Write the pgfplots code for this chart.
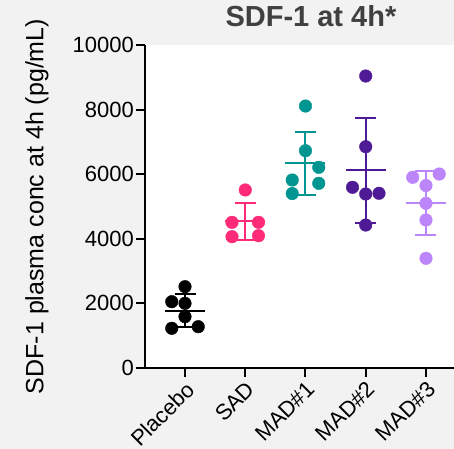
\documentclass[border=0pt]{standalone}
\usepackage{fontspec}
\setmainfont{Liberation Sans}
\usepackage{pgfplots}
\pgfplotsset{compat=1.18}

\definecolor{bggray}{HTML}{F2F2F2}
\definecolor{titlegray}{HTML}{404040}
\definecolor{cPlacebo}{HTML}{000000}
\definecolor{cSAD}{HTML}{FF2A78}
\definecolor{cMADa}{HTML}{009590}
\definecolor{cMADb}{HTML}{4F1A95}
\definecolor{cMADc}{HTML}{BC85FA}

\pgfplotsset{
  sdbar/.style={only marks, mark=-, mark size=20bp, mark options={line width=2bp},
    error bars/.cd, y dir=both, y explicit,
    error bar style={line width=2bp},
    error mark=-,
    error mark options={rotate=90, mark size=10.5bp, line width=2bp}},
  dots/.style={only marks, mark=*, mark size=6.3bp},
}

\begin{document}
\begin{tikzpicture}
\fill[bggray] (0,0) rectangle (454bp,449bp);
\useasboundingbox (0,0) rectangle (454bp,449bp);
\begin{axis}[
  at={(145bp,81bp)}, anchor=south west,
  scale only axis, width=309bp, height=323bp,
  xmin=-0.664, xmax=4.465, ymin=0, ymax=10000,
  axis x line*=bottom, axis y line*=left,
  axis line style={line width=2bp, -},
  axis background/.style={fill=white},
  clip=false,
  scaled ticks=false,
  xtick={0,1,2,3,4},
  xticklabels={Placebo,SAD,MAD\#1,MAD\#2,MAD\#3},
  ytick={0,2000,4000,6000,8000,10000},
  tick align=outside,
  major tick length=9bp,
  tick style={line width=2bp, black},
  /pgf/number format/assume math mode=true,
  yticklabel style={/pgf/number format/1000 sep={}, inner sep=2bp,
    font=\fontsize{22bp}{26bp}\selectfont},
  xticklabel style={rotate=45, anchor=north east, inner sep=2bp,
    font=\fontsize{22bp}{26bp}\selectfont},
  ylabel={SDF-1 plasma conc at 4h (pg/mL)},
  ylabel style={at={(axis description cs:-0.35,0.5)}, anchor=center,
    font=\fontsize{25bp}{30bp}\selectfont},
  title={SDF-1 at 4h*},
  title style={at={(axis description cs:0.537,1.071)}, anchor=center,
    text=titlegray, font=\bfseries\fontsize{29bp}{34bp}\selectfont},
]
% mean +- SD
\addplot[color=cPlacebo, sdbar] coordinates {(0,1778) +- (0,502)};
\addplot[color=cSAD, sdbar] coordinates {(1,4540) +- (0,580)};
\addplot[color=cMADa, sdbar] coordinates {(2,6332) +- (0,984)};
\addplot[color=cMADb, sdbar] coordinates {(3,6118) +- (0,1628)};
\addplot[color=cMADc, sdbar] coordinates {(4,5106) +- (0,994)};
% individual values
\addplot[color=cPlacebo, dots] coordinates {
  (0,2517) (-0.22,2053) (0,2003) (0,1588) (-0.22,1229) (0.22,1279)};
\addplot[color=cSAD, dots] coordinates {
  (1,5511) (0.78,4510) (1.22,4510) (0.78,4066) (1.22,4097)};
\addplot[color=cMADa, dots] coordinates {
  (2,8111) (2,6728) (2.22,6213) (1.78,5820) (2.22,5718) (1.78,5400)};
\addplot[color=cMADb, dots] coordinates {
  (3,9040) (3,6851) (2.78,5594) (3,5387) (3.22,5409) (3,4427)};
\addplot[color=cMADc, dots] coordinates {
  (3.78,5904) (4.22,6006) (4,5650) (4,5099) (4,4582) (4,3396)};
\end{axis}
\end{tikzpicture}
\end{document}
